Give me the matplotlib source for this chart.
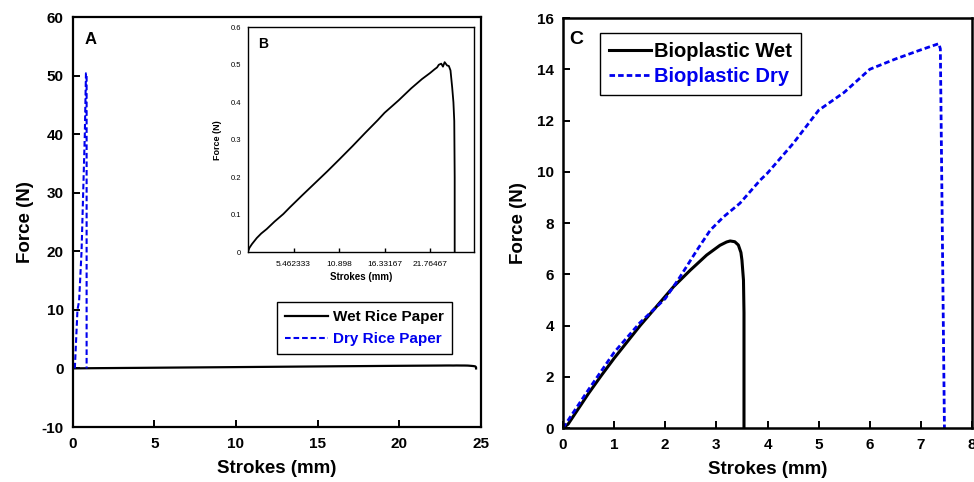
import matplotlib
matplotlib.use("Agg")
import matplotlib.pyplot as plt

plt.rcParams['font.family'] = ['Liberation Sans', 'DejaVu Sans']
plt.rcParams['font.weight'] = 'bold'
plt.rcParams['axes.unicode_minus'] = False

# ---- Data: panel A/B (rice paper) ----
wet_rice_x = [0, 0.2, 0.5, 1.07, 1.6, 2.26, 3.2, 4.24, 5.03, 6.5, 8.0, 9.5, 10.9,
              12.5, 14.0, 15.5, 16.33, 18.0, 19.5, 20.8, 21.76, 22.3, 22.6, 22.8,
              23.1, 23.3, 23.5, 23.8, 24.0, 24.2, 24.4, 24.55, 24.65, 24.7, 24.7]
wet_rice_y = [0, 0.012, 0.022, 0.038, 0.050, 0.062, 0.082, 0.102, 0.120, 0.152,
              0.184, 0.216, 0.247, 0.283, 0.318, 0.352, 0.372, 0.405, 0.437, 0.462,
              0.478, 0.488, 0.493, 0.50, 0.503, 0.495, 0.507, 0.498, 0.497, 0.485,
              0.44, 0.40, 0.35, 0.2, 0]
dry_rice_x = [0.14, 0.3, 0.4, 0.55, 0.65, 0.75, 0.82, 0.86, 0.86]
dry_rice_y = [0, 10, 11.5, 20, 30, 40, 50.4, 50.4, 0]

# ---- Data: panel C (bioplastic) ----
bio_wet_x = [0, 0.1, 0.25, 0.5, 0.75, 1.0, 1.51, 2.16, 2.49, 2.81, 3.07, 3.2,
             3.27, 3.36, 3.43, 3.48, 3.5, 3.53, 3.54, 3.54]
bio_wet_y = [0, 0.15, 0.6, 1.35, 2.05, 2.72, 4.0, 5.51, 6.16, 6.75, 7.13, 7.26,
             7.3, 7.27, 7.14, 6.85, 6.55, 5.77, 4.5, 0]
bio_dry_x = [0, 0.5, 1.0, 1.5, 2.0, 2.29, 2.62, 2.88, 3.14, 3.46, 3.86, 4.0, 4.5,
             5.0, 5.5, 6.0, 6.5, 7.0, 7.35, 7.38, 7.46]
bio_dry_y = [0, 1.5, 2.95, 4.1, 5.05, 5.9, 6.94, 7.72, 8.24, 8.77, 9.68, 9.95,
             11.1, 12.4, 13.1, 14.0, 14.4, 14.76, 15.0, 14.8, 0]

inset_xticks = [5.462333, 10.898, 16.33167, 21.76467]
inset_xticklabels = ['5.462333', '10.898', '16.33167', '21.76467']

BLUE = '#0000ee'

fig = plt.figure(figsize=(9.74, 4.82), dpi=100)

def style_axes(ax, lw=1.6, labelsize=10):
    for s in ax.spines.values():
        s.set_linewidth(lw)
    ax.tick_params(direction='in', length=5, width=1.4, labelsize=labelsize)
    ax.tick_params(axis='x', pad=7.5)
    ax.tick_params(axis='y', pad=6.5)
    for lab in ax.get_xticklabels() + ax.get_yticklabels():
        lab.set_fontweight('bold')

# ---- Panel A ----
axA = fig.add_axes([0.0745, 0.1141, 0.4193, 0.8506])
axA.plot(wet_rice_x, wet_rice_y, color='black', lw=1.6, label='Wet Rice Paper')
axA.plot(dry_rice_x, dry_rice_y, color=BLUE, lw=1.5, ls=(0, (2.7, 1.4)),
         label='Dry Rice Paper')
axA.set_xlim(0, 25)
axA.set_ylim(-10, 60)
axA.set_xticks([0, 5, 10, 15, 20, 25])
axA.set_yticks([-10, 0, 10, 20, 30, 40, 50, 60])
style_axes(axA, lw=1.6, labelsize=11)
axA.set_xlabel('Strokes (mm)', fontsize=13.5, fontweight='bold', labelpad=6)
axA.set_ylabel('Force (N)', fontsize=13.5, fontweight='bold', labelpad=5)
axA.text(0.03, 0.945, 'A', transform=axA.transAxes, fontsize=12,
         fontweight='bold', va='center')
legA = axA.legend(loc='upper right', bbox_to_anchor=(0.929, 0.305),
                  borderaxespad=0, fancybox=False, edgecolor='black',
                  framealpha=1, fontsize=11, handlelength=2.8,
                  handletextpad=0.3, borderpad=0.55, labelspacing=0.5)
legA.get_frame().set_linewidth(1.0)
for txt, c in zip(legA.get_texts(), ['black', BLUE]):
    txt.set_color(c)
    txt.set_fontweight('bold')

# ---- Inset B ----
axB = fig.add_axes([0.2544, 0.4766, 0.2322, 0.4668])
axB.plot(wet_rice_x, wet_rice_y, color='black', lw=1.3)
axB.set_xlim(0, 27.0)
axB.set_ylim(0, 0.6)
axB.set_xticks(inset_xticks)
axB.set_xticklabels(inset_xticklabels)
axB.set_yticks([0, 0.1, 0.2, 0.3, 0.4, 0.5, 0.6])
axB.set_yticklabels(['0', '0.1', '0.2', '0.3', '0.4', '0.5', '0.6'])
for s in axB.spines.values():
    s.set_linewidth(1.0)
axB.tick_params(axis='x', direction='in', length=3, width=1.0, labelsize=6, pad=6)
axB.tick_params(axis='y', direction='in', length=0, width=1.0, labelsize=5.5, pad=5)
for lab in axB.get_xticklabels() + axB.get_yticklabels():
    lab.set_fontweight('normal')
axB.set_xlabel('Strokes (mm)', fontsize=7, fontweight='bold', labelpad=3.5)
axB.set_ylabel('Force (N)', fontsize=6.5, fontweight='bold', labelpad=6)
axB.text(0.045, 0.925, 'B', transform=axB.transAxes, fontsize=10,
         fontweight='bold', va='center')

# ---- Panel C ----
axC = fig.add_axes([0.578, 0.112, 0.42, 0.8506])
axC.plot(bio_wet_x, bio_wet_y, color='black', lw=2.2, label='Bioplastic Wet')
axC.plot(bio_dry_x, bio_dry_y, color=BLUE, lw=2.0, ls=(0, (2, 1.1)),
         label='Bioplastic Dry')
axC.set_xlim(0, 8)
axC.set_ylim(0, 16)
axC.set_xticks(range(0, 9))
axC.set_yticks(range(0, 17, 2))
style_axes(axC, lw=1.8, labelsize=11)
axC.set_xlabel('Strokes (mm)', fontsize=13.5, fontweight='bold', labelpad=6)
axC.set_ylabel('Force (N)', fontsize=13.5, fontweight='bold', labelpad=7)
axC.text(0.015, 0.948, 'C', transform=axC.transAxes, fontsize=14,
         fontweight='bold', va='center')
legC = axC.legend(loc='upper left', bbox_to_anchor=(0.09, 0.963),
                  borderaxespad=0, fancybox=False, edgecolor='black',
                  framealpha=1, fontsize=14.5, handlelength=2.1,
                  handletextpad=0.15, borderpad=0.45, labelspacing=0.3)
legC.get_frame().set_linewidth(1.0)
for txt, c in zip(legC.get_texts(), ['black', BLUE]):
    txt.set_color(c)
    txt.set_fontweight('bold')

fig.savefig('out.png', dpi=100)
